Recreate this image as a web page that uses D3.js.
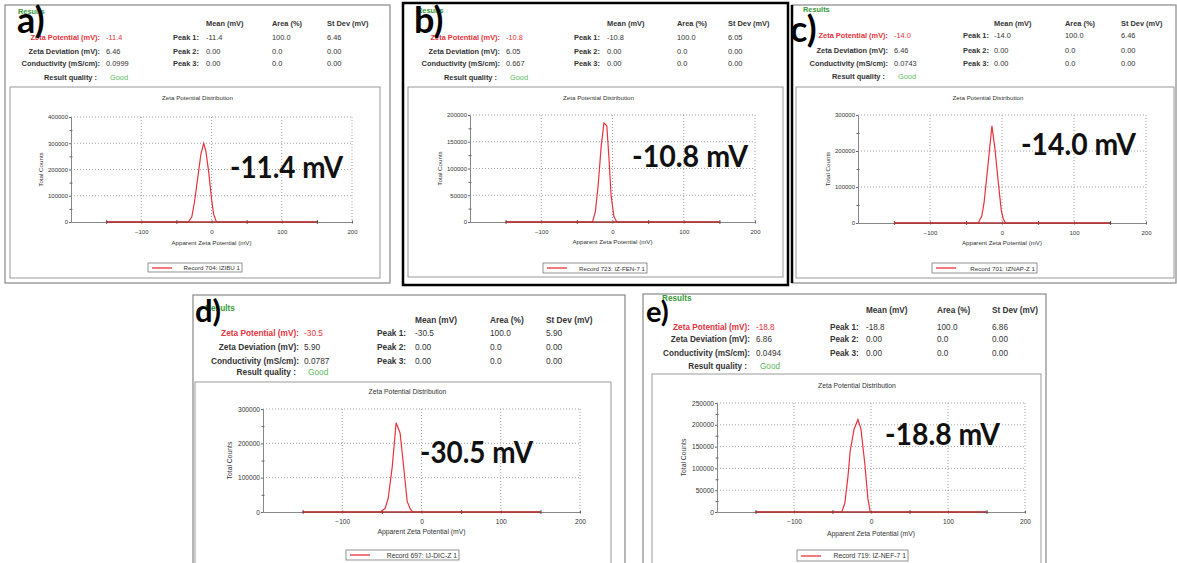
<!DOCTYPE html>
<html>
<head>
<meta charset="utf-8">
<script src="https://cdnjs.cloudflare.com/ajax/libs/d3/7.8.5/d3.min.js"></script>
<style>
  body { margin: 0; background: #fff; }
  svg text { font-family: "Liberation Sans", Arial, sans-serif; }
</style>
</head>
<body>
<div id="chart"></div>
<script>
// values
var panelIds = ["a)", "b)", "c)", "d)", "e)"];
var zetaPotential = [-11.4, -10.8, -14.0, -30.5, -18.8];
var zetaDeviation = [6.46, 6.05, 6.46, 5.90, 6.86];
var conductivity = ["0.0999", "0.667", "0.0743", "0.0787", "0.0494"];
var records = ["Record 704: IZIBU 1", "Record 723: IZ-FEN-7 1", "Record 701: IZNAP-Z 1",
  "Record 697: IJ-DIC-Z 1", "Record 719: IZ-NEF-7 1"];
var yMax = [400000, 200000, 300000, 300000, 250000];
var yStep = [100000, 50000, 100000, 100000, 50000];
var xTicks = [-100, 0, 100, 200];
var xMinor = [-150, -50, 50, 150];

// distribution curves (apparent zeta potential, total counts)
var curveX = [
  [-150, -33, -28, -24, -19, -15, -11, -8, -4, 0, 3, 7, 150],
  [-150, -28, -24, -20, -16, -12, -8, -5, -2, 2, 6, 150],
  [-150, -33, -28, -25, -20, -14, -10, -5, -1, 2, 5, 150],
  [-150, -52, -46, -42, -37, -32, -27, -22, -18, -14, -11, 150],
  [-150, -38, -34, -30, -27, -22, -17, -13, -8, -4, -1, 150]
];
var curveY = [
  [0, 0, 20000, 80000, 180000, 260000, 300000, 270000, 190000, 90000, 30000, 0, 0],
  [0, 0, 20000, 70000, 140000, 185000, 180000, 120000, 50000, 10000, 0, 0],
  [0, 0, 20000, 55000, 150000, 270000, 210000, 110000, 35000, 10000, 0, 0],
  [0, 0, 10000, 40000, 130000, 260000, 230000, 120000, 30000, 8000, 0, 0],
  [0, 0, 20000, 80000, 140000, 190000, 212000, 190000, 110000, 30000, 0, 0]
];

// page layout of each screenshot
var layout = [
  {frame: [5, 5, 390, 283], fc: "#888", fw: 1.2, inner: [10, 87, 380, 278], plot: [71, 117, 352, 222],
   titleY: 97, tickY: 232, xlabY: 242, ylabX: 40, legend: [148, 263, 242, 272], results: [18, 11],
   letter: [17, 33, 36], lr: 100, vx: 106, px: 173, pv: 206, ax: 272, sx: 327, hy: 23, rows: [37, 51, 63, 77],
   big: [230, 178, 113], fs: 7.4, sub: 6.2},
  {frame: [403, 3, 788, 285], fc: "#000", fw: 2.5, inner: [408, 87, 783, 277], plot: [470, 115, 755, 222],
   titleY: 97, tickY: 232, xlabY: 241, ylabX: 439, legend: [543, 263, 647, 273], results: [417, 10],
   letter: [414, 33, 36], lr: 500, vx: 506, px: 574, pv: 607, ax: 677, sx: 728, hy: 23, rows: [37, 51, 63, 77],
   big: [632, 167, 116], fs: 7.4, sub: 6.2},
  {frame: [792, 5, 1176, 283], fc: "#888", fw: 1.2, leftBlack: true, inner: [796, 87, 1174, 278], plot: [858, 115, 1146, 223],
   titleY: 97, tickY: 233, xlabY: 242, ylabX: 827, legend: [932, 263, 1037, 273], results: [803, 9],
   letter: [790, 42, 36], lr: 888, vx: 894, px: 963, pv: 994, ax: 1065, sx: 1121, hy: 23, rows: [35, 50, 63, 76],
   big: [1021, 155, 115], fs: 7.4, sub: 6.2},
  {frame: [193, 295, 625, 580], fc: "#888", fw: 1.2, inner: [195, 382, 611, 580], plot: [263, 409, 580, 512],
   titleY: 391, tickY: 522, xlabY: 531, ylabX: 229, legend: [346, 550, 459, 560], results: [205, 308],
   letter: [195, 322, 31], lr: 299, vx: 304, px: 377, pv: 415, ax: 490, sx: 546, hy: 320, rows: [333, 347, 361, 372],
   big: [420, 463, 113], fs: 8.3, sub: 6.8},
  {frame: [643, 294, 1046, 580], fc: "#888", fw: 1.2, inner: [652, 374, 1041, 580], plot: [717, 403, 1025, 512],
   titleY: 385, tickY: 522, xlabY: 533, ylabX: 683, legend: [797, 550, 908, 561], results: [662, 298],
   letter: [646, 322, 29], lr: 750, vx: 756, px: 830, pv: 866, ax: 937, sx: 992, hy: 310, rows: [327, 339, 353, 366],
   big: [885, 445, 115], fs: 8.2, sub: 6.8}
];

var red = "#e8323c", green = "#3a9a3a", txt = "#333";

var svg = d3.select("#chart").append("svg")
  .attr("width", 1177)
  .attr("height", 563);

function label(g, x, y, s, opt) {
  opt = opt || {};
  return g.append("text")
    .attr("x", x).attr("y", y)
    .attr("dominant-baseline", opt.base || "central")
    .attr("text-anchor", opt.anchor || "start")
    .attr("font-size", opt.size)
    .attr("font-weight", opt.bold ? "bold" : "normal")
    .attr("fill", opt.color || txt)
    .text(s);
}

function drawPanel(i) {
  var L = layout[i];
  var g = svg.append("g");

  // outer frame + chart box
  g.append("rect")
    .attr("x", L.frame[0]).attr("y", L.frame[1])
    .attr("width", L.frame[2] - L.frame[0]).attr("height", L.frame[3] - L.frame[1])
    .attr("fill", "#fff").attr("stroke", L.fc).attr("stroke-width", L.fw);
  if (L.leftBlack) {
    g.append("line").attr("x1", L.frame[0]).attr("x2", L.frame[0])
      .attr("y1", L.frame[1]).attr("y2", L.frame[3])
      .attr("stroke", "#000").attr("stroke-width", 2.5);
  }
  g.append("rect")
    .attr("x", L.inner[0]).attr("y", L.inner[1])
    .attr("width", L.inner[2] - L.inner[0]).attr("height", L.inner[3] - L.inner[1])
    .attr("fill", "none").attr("stroke", "#999").attr("stroke-width", 1);

  // results header
  var fs = L.fs;
  label(g, L.results[0], L.results[1], "Results", {size: fs, bold: true, color: green});
  label(g, L.pv, L.hy, "Mean (mV)", {size: fs, bold: true});
  label(g, L.ax, L.hy, "Area (%)", {size: fs, bold: true});
  label(g, L.sx, L.hy, "St Dev (mV)", {size: fs, bold: true});

  var rowLabels = ["Zeta Potential (mV):", "Zeta Deviation (mV):", "Conductivity (mS/cm):", "Result quality :"];
  var rowValues = [zetaPotential[i].toFixed(1), zetaDeviation[i].toFixed(2), conductivity[i], "Good"];
  rowLabels.forEach(function(s, k) {
    var c = k === 0 ? red : txt;
    var lx = k === 3 ? L.lr - 3 : L.lr;
    label(g, lx, L.rows[k], s, {size: fs, bold: true, color: c, anchor: "end"});
    label(g, k === 3 ? L.vx + 4 : L.vx, L.rows[k], rowValues[k],
      {size: fs, color: k === 0 ? red : (k === 3 ? "#5cb85c" : txt)});
  });

  var peakMean = [zetaPotential[i].toFixed(1), "0.00", "0.00"];
  var peakArea = ["100.0", "0.0", "0.0"];
  var peakSd = [zetaDeviation[i].toFixed(2), "0.00", "0.00"];
  [0, 1, 2].forEach(function(k) {
    label(g, L.px, L.rows[k], "Peak " + (k + 1) + ":", {size: fs, bold: true});
    label(g, L.pv, L.rows[k], peakMean[k], {size: fs});
    label(g, L.ax, L.rows[k], peakArea[k], {size: fs});
    label(g, L.sx, L.rows[k], peakSd[k], {size: fs});
  });

  // chart
  var x = d3.scaleLinear().domain([-200, 200]).range([L.plot[0], L.plot[2]]);
  var y = d3.scaleLinear().domain([0, yMax[i]]).range([L.plot[3], L.plot[1]]);
  var yTicks = d3.range(0, yMax[i] + 1, yStep[i]);
  var yMinor = yTicks.slice(1).map(function(v) { return v - yStep[i] / 2; });

  label(g, (L.plot[0] + L.plot[2]) / 2 - 14, L.titleY, "Zeta Potential Distribution",
    {size: L.sub, anchor: "middle"});

  // dotted grid
  g.selectAll(".vgrid").data(xTicks).enter().append("line")
    .attr("x1", function(d) { return x(d); }).attr("x2", function(d) { return x(d); })
    .attr("y1", L.plot[1]).attr("y2", L.plot[3])
    .attr("stroke", "#999").attr("stroke-width", 0.9).attr("stroke-dasharray", "1,2");
  g.selectAll(".hgrid").data(yTicks.slice(1)).enter().append("line")
    .attr("x1", L.plot[0]).attr("x2", L.plot[2])
    .attr("y1", function(d) { return y(d); }).attr("y2", function(d) { return y(d); })
    .attr("stroke", "#999").attr("stroke-width", 0.9).attr("stroke-dasharray", "1,2");

  // axes
  var xa = g.append("g")
    .attr("transform", "translate(0," + L.plot[3] + ")")
    .call(d3.axisBottom(x).tickValues(xTicks).tickSizeOuter(0).tickPadding(0));
  xa.selectAll(".tick line").attr("y1", -1.5).attr("y2", 1.5).attr("stroke", "#666");
  xa.selectAll(".tick text").attr("y", L.tickY - L.plot[3]).attr("dy", "0.32em")
    .attr("font-size", L.sub - 0.2).attr("fill", txt).style("font-family", "Liberation Sans");
  var xm = g.append("g")
    .attr("transform", "translate(0," + L.plot[3] + ")")
    .call(d3.axisBottom(x).tickValues(xMinor).tickSizeOuter(0).tickFormat(""));
  xm.selectAll(".tick line").attr("y1", -1.8).attr("y2", 1.8).attr("stroke", "#444").attr("stroke-width", 1.2);
  xm.select(".domain").remove();
  xa.select(".domain").attr("stroke", "#888");

  var ya = g.append("g")
    .attr("transform", "translate(" + L.plot[0] + ",0)")
    .call(d3.axisLeft(y).tickValues(yTicks).tickFormat(d3.format("d")).tickSizeOuter(0).tickSize(2).tickPadding(1));
  ya.select(".domain").attr("stroke", "#888");
  ya.selectAll(".tick line").attr("stroke", "#666");
  ya.selectAll(".tick text").attr("font-size", L.sub - 0.2).attr("fill", txt).style("font-family", "Liberation Sans");
  var ym = g.append("g")
    .attr("transform", "translate(" + L.plot[0] + ",0)")
    .call(d3.axisLeft(y).tickValues(yMinor).tickFormat("").tickSize(0));
  ym.select(".domain").remove();
  ym.selectAll(".tick line").attr("x1", -1.5).attr("x2", 1.5).attr("stroke", "#666");

  label(g, (L.plot[0] + L.plot[2]) / 2, L.xlabY, "Apparent Zeta Potential (mV)",
    {size: L.sub, anchor: "middle"});
  label(g, 0, 0, "Total Counts", {size: L.sub, anchor: "middle"})
    .attr("transform", "translate(" + L.ylabX + "," + ((L.plot[1] + L.plot[3]) / 2) + ") rotate(-90)");

  // distribution curve
  var pts = d3.zip(curveX[i], curveY[i]);
  var line = d3.line()
    .x(function(d) { return x(d[0]); })
    .y(function(d) { return y(d[1]); });
  g.append("path").datum(pts)
    .attr("d", line)
    .attr("fill", "none")
    .attr("stroke", red)
    .attr("stroke-width", 1.2);
  g.append("line")
    .attr("x1", x(curveX[i][0])).attr("x2", x(curveX[i][curveX[i].length - 1]))
    .attr("y1", y(0)).attr("y2", y(0))
    .attr("stroke", "#a33").attr("stroke-width", 1.4);

  // legend
  var lg = L.legend;
  var my = Math.round((lg[1] + lg[3]) / 2);
  g.append("rect")
    .attr("x", lg[0]).attr("y", lg[1])
    .attr("width", lg[2] - lg[0]).attr("height", lg[3] - lg[1])
    .attr("fill", "#fff").attr("stroke", "#777").attr("stroke-width", 0.8);
  g.append("line")
    .attr("x1", lg[0] + 4).attr("x2", lg[0] + 24)
    .attr("y1", my).attr("y2", my)
    .attr("stroke", red).attr("stroke-width", 1.3);
  label(g, lg[2] - 2, (lg[1] + lg[3]) / 2, records[i], {size: L.sub, anchor: "end"});

  // big annotation
  label(g, L.big[0], L.big[1], zetaPotential[i].toFixed(1) + " mV",
    {size: 31, bold: true, color: "#111", base: "alphabetic"})
    .style("font-family", "Lato, 'Open Sans', sans-serif")
    .attr("textLength", L.big[2]).attr("lengthAdjust", "spacingAndGlyphs");

  // panel letter
  label(g, L.letter[0], L.letter[1], panelIds[i],
    {size: L.letter[2], bold: true, color: "#000", base: "alphabetic"})
    .style("font-family", "Lato, 'Open Sans', sans-serif");
}

d3.range(panelIds.length).forEach(drawPanel);
</script>
</body>
</html>
